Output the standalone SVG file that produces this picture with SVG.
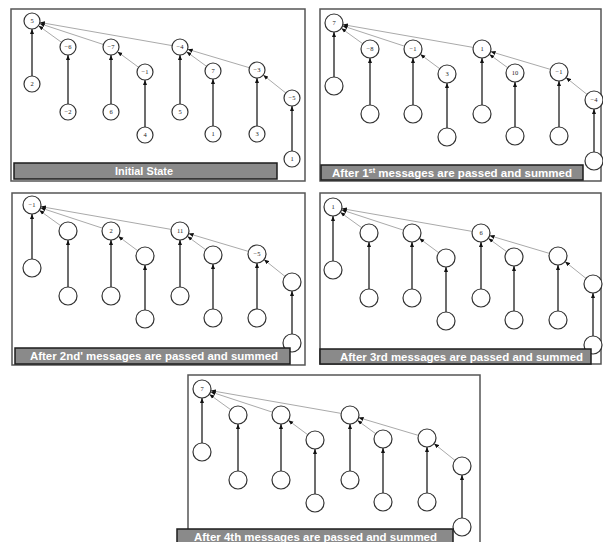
<svg xmlns="http://www.w3.org/2000/svg" xmlns:xlink="http://www.w3.org/1999/xlink" width="603" height="542" viewBox="0 0 603 542">
  <style>
    .frame{fill:#fff;stroke:#555;stroke-width:1.5}
    .bar{fill:#8a8a8a;stroke:#1c1c1c;stroke-width:1.5}
    .bar-text{font-family:"Liberation Sans",Arial,sans-serif;font-weight:bold;font-size:11px;fill:#fff;text-anchor:middle}
    .node circle{fill:#fff;stroke:#333;stroke-width:1.2}
    .node text{font-family:"Liberation Serif","Times New Roman",serif;font-size:6.5px;fill:#222;text-anchor:middle}
    .tree{fill:none;stroke:#3c3c3c;stroke-width:1.5;marker-end:url(#head)}
    .link{fill:none;stroke:#aaa;stroke-width:1;marker-end:url(#head)}
  </style>
  <defs>
    <marker id="head" markerUnits="userSpaceOnUse" markerWidth="5" markerHeight="5" viewBox="0 0 5 5" refX="5" refY="2.5" orient="auto">
      <path d="M0,0.5 L5,2.5 L0,4.5 z" fill="#111"/>
    </marker>
    <!-- binomial tree edges, node radius 8 -->
    <g id="edges-r8">
      <path class="tree" d="M32,76 V29"/>
      <path class="tree" d="M68,104 V55"/>
      <path class="tree" d="M111,104 V55"/>
      <path class="tree" d="M145,127 V80"/>
      <path class="tree" d="M180,104 V55"/>
      <path class="tree" d="M213,126 V79"/>
      <path class="tree" d="M257,126 V78"/>
      <path class="tree" d="M292,151 V106"/>
      <path class="link" d="M61.5,42.3 L38.5,25.7"/>
      <path class="link" d="M103.4,44.5 L39.6,23.5"/>
      <path class="link" d="M172.1,45.6 L39.9,22.4"/>
      <path class="link" d="M138.6,67.3 L117.4,51.7"/>
      <path class="link" d="M206.5,66.3 L186.5,51.7"/>
      <path class="link" d="M249.3,67.7 L187.7,49.3"/>
      <path class="link" d="M285.8,93 L263.2,75"/>
    </g>
    <!-- same edges, node radius 9 -->
    <g id="edges-r9">
      <path class="tree" d="M32,75 V30"/>
      <path class="tree" d="M68,103 V56"/>
      <path class="tree" d="M111,103 V56"/>
      <path class="tree" d="M145,126 V81"/>
      <path class="tree" d="M180,103 V56"/>
      <path class="tree" d="M213,125 V80"/>
      <path class="tree" d="M257,125 V79"/>
      <path class="tree" d="M292,150 V107"/>
      <path class="link" d="M60.7,41.7 L39.3,26.3"/>
      <path class="link" d="M102.5,44.2 L40.5,23.8"/>
      <path class="link" d="M171.1,45.4 L40.9,22.6"/>
      <path class="link" d="M137.7,66.7 L118.3,52.3"/>
      <path class="link" d="M205.7,65.7 L187.3,52.3"/>
      <path class="link" d="M248.4,67.4 L188.6,49.6"/>
      <path class="link" d="M285,92.4 L264,75.6"/>
    </g>
  </defs>

  <!-- frames -->
  <rect class="frame" x="11" y="9" width="294" height="172"/>
  <rect class="frame" x="320" y="9" width="281" height="172"/>
  <rect class="frame" x="12" y="193" width="293" height="172"/>
  <rect class="frame" x="320" y="193" width="281" height="171"/>
  <rect class="frame" x="188" y="375" width="292" height="168"/>

  <!-- panel 1: initial state -->
  <g id="panel1">
    <g id="p1-connectors"><use xlink:href="#edges-r8"/></g>
    <g id="p1-n0" class="node" transform="translate(32,21)"><circle r="8"/><text y="2.2">5</text></g>
    <g id="p1-n1" class="node" transform="translate(32,84)"><circle r="8"/><text y="2.2">2</text></g>
    <g id="p1-n2" class="node" transform="translate(68,47)"><circle r="8"/><text y="2.2">−6</text></g>
    <g id="p1-n3" class="node" transform="translate(68,112)"><circle r="8"/><text y="2.2">−2</text></g>
    <g id="p1-n4" class="node" transform="translate(111,47)"><circle r="8"/><text y="2.2">−7</text></g>
    <g id="p1-n5" class="node" transform="translate(111,112)"><circle r="8"/><text y="2.2">6</text></g>
    <g id="p1-n6" class="node" transform="translate(145,72)"><circle r="8"/><text y="2.2">−1</text></g>
    <g id="p1-n7" class="node" transform="translate(145,135)"><circle r="8"/><text y="2.2">4</text></g>
    <g id="p1-n8" class="node" transform="translate(180,47)"><circle r="8"/><text y="2.2">−4</text></g>
    <g id="p1-n9" class="node" transform="translate(180,112)"><circle r="8"/><text y="2.2">5</text></g>
    <g id="p1-n10" class="node" transform="translate(213,71)"><circle r="8"/><text y="2.2">7</text></g>
    <g id="p1-n11" class="node" transform="translate(213,134)"><circle r="8"/><text y="2.2">1</text></g>
    <g id="p1-n12" class="node" transform="translate(257,70)"><circle r="8"/><text y="2.2">−3</text></g>
    <g id="p1-n13" class="node" transform="translate(257,134)"><circle r="8"/><text y="2.2">3</text></g>
    <g id="p1-n14" class="node" transform="translate(292,98)"><circle r="8"/><text y="2.2">−5</text></g>
    <g id="p1-n15" class="node" transform="translate(292,159)"><circle r="8"/><text y="2.2">1</text></g>
  </g>

  <!-- panel 2: after first pass -->
  <g id="panel2" transform="translate(302,2)">
    <g id="p2-connectors"><use xlink:href="#edges-r9"/></g>
    <g id="p2-n0" class="node" transform="translate(32,21)"><circle r="9"/><text y="2.2">7</text></g>
    <g id="p2-n1" class="node" transform="translate(32,84)"><circle r="9"/></g>
    <g id="p2-n2" class="node" transform="translate(68,47)"><circle r="9"/><text y="2.2">−8</text></g>
    <g id="p2-n3" class="node" transform="translate(68,112)"><circle r="9"/></g>
    <g id="p2-n4" class="node" transform="translate(111,47)"><circle r="9"/><text y="2.2">−1</text></g>
    <g id="p2-n5" class="node" transform="translate(111,112)"><circle r="9"/></g>
    <g id="p2-n6" class="node" transform="translate(145,72)"><circle r="9"/><text y="2.2">3</text></g>
    <g id="p2-n7" class="node" transform="translate(145,135)"><circle r="9"/></g>
    <g id="p2-n8" class="node" transform="translate(180,47)"><circle r="9"/><text y="2.2">1</text></g>
    <g id="p2-n9" class="node" transform="translate(180,112)"><circle r="9"/></g>
    <g id="p2-n10" class="node" transform="translate(213,71)"><circle r="9"/><text y="2.2">10</text></g>
    <g id="p2-n11" class="node" transform="translate(213,134)"><circle r="9"/></g>
    <g id="p2-n12" class="node" transform="translate(257,70)"><circle r="9"/><text y="2.2">−1</text></g>
    <g id="p2-n13" class="node" transform="translate(257,134)"><circle r="9"/></g>
    <g id="p2-n14" class="node" transform="translate(292,98)"><circle r="9"/><text y="2.2">−4</text></g>
    <g id="p2-n15" class="node" transform="translate(292,159)"><circle r="9"/></g>
  </g>

  <!-- panel 3: after second pass -->
  <g id="panel3" transform="translate(0,184)">
    <g id="p3-connectors"><use xlink:href="#edges-r9"/></g>
    <g id="p3-n0" class="node" transform="translate(32,21)"><circle r="9"/><text y="2.2">−1</text></g>
    <g id="p3-n1" class="node" transform="translate(32,84)"><circle r="9"/></g>
    <g id="p3-n2" class="node" transform="translate(68,47)"><circle r="9"/></g>
    <g id="p3-n3" class="node" transform="translate(68,112)"><circle r="9"/></g>
    <g id="p3-n4" class="node" transform="translate(111,47)"><circle r="9"/><text y="2.2">2</text></g>
    <g id="p3-n5" class="node" transform="translate(111,112)"><circle r="9"/></g>
    <g id="p3-n6" class="node" transform="translate(145,72)"><circle r="9"/></g>
    <g id="p3-n7" class="node" transform="translate(145,135)"><circle r="9"/></g>
    <g id="p3-n8" class="node" transform="translate(180,47)"><circle r="9"/><text y="2.2">11</text></g>
    <g id="p3-n9" class="node" transform="translate(180,112)"><circle r="9"/></g>
    <g id="p3-n10" class="node" transform="translate(213,71)"><circle r="9"/></g>
    <g id="p3-n11" class="node" transform="translate(213,134)"><circle r="9"/></g>
    <g id="p3-n12" class="node" transform="translate(257,70)"><circle r="9"/><text y="2.2">−5</text></g>
    <g id="p3-n13" class="node" transform="translate(257,134)"><circle r="9"/></g>
    <g id="p3-n14" class="node" transform="translate(292,98)"><circle r="9"/></g>
    <g id="p3-n15" class="node" transform="translate(292,159)"><circle r="9"/></g>
  </g>

  <!-- panel 4: after third pass -->
  <g id="panel4" transform="translate(301,186)">
    <g id="p4-connectors"><use xlink:href="#edges-r9"/></g>
    <g id="p4-n0" class="node" transform="translate(32,21)"><circle r="9"/><text y="2.2">1</text></g>
    <g id="p4-n1" class="node" transform="translate(32,84)"><circle r="9"/></g>
    <g id="p4-n2" class="node" transform="translate(68,47)"><circle r="9"/></g>
    <g id="p4-n3" class="node" transform="translate(68,112)"><circle r="9"/></g>
    <g id="p4-n4" class="node" transform="translate(111,47)"><circle r="9"/></g>
    <g id="p4-n5" class="node" transform="translate(111,112)"><circle r="9"/></g>
    <g id="p4-n6" class="node" transform="translate(145,72)"><circle r="9"/></g>
    <g id="p4-n7" class="node" transform="translate(145,135)"><circle r="9"/></g>
    <g id="p4-n8" class="node" transform="translate(180,47)"><circle r="9"/><text y="2.2">6</text></g>
    <g id="p4-n9" class="node" transform="translate(180,112)"><circle r="9"/></g>
    <g id="p4-n10" class="node" transform="translate(213,71)"><circle r="9"/></g>
    <g id="p4-n11" class="node" transform="translate(213,134)"><circle r="9"/></g>
    <g id="p4-n12" class="node" transform="translate(257,70)"><circle r="9"/></g>
    <g id="p4-n13" class="node" transform="translate(257,134)"><circle r="9"/></g>
    <g id="p4-n14" class="node" transform="translate(292,98)"><circle r="9"/></g>
    <g id="p4-n15" class="node" transform="translate(292,159)"><circle r="9"/></g>
  </g>

  <!-- panel 5: after fourth pass -->
  <g id="panel5" transform="translate(170,368)">
    <g id="p5-connectors"><use xlink:href="#edges-r9"/></g>
    <g id="p5-n0" class="node" transform="translate(32,21)"><circle r="9"/><text y="2.2">7</text></g>
    <g id="p5-n1" class="node" transform="translate(32,84)"><circle r="9"/></g>
    <g id="p5-n2" class="node" transform="translate(68,47)"><circle r="9"/></g>
    <g id="p5-n3" class="node" transform="translate(68,112)"><circle r="9"/></g>
    <g id="p5-n4" class="node" transform="translate(111,47)"><circle r="9"/></g>
    <g id="p5-n5" class="node" transform="translate(111,112)"><circle r="9"/></g>
    <g id="p5-n6" class="node" transform="translate(145,72)"><circle r="9"/></g>
    <g id="p5-n7" class="node" transform="translate(145,135)"><circle r="9"/></g>
    <g id="p5-n8" class="node" transform="translate(180,47)"><circle r="9"/></g>
    <g id="p5-n9" class="node" transform="translate(180,112)"><circle r="9"/></g>
    <g id="p5-n10" class="node" transform="translate(213,71)"><circle r="9"/></g>
    <g id="p5-n11" class="node" transform="translate(213,134)"><circle r="9"/></g>
    <g id="p5-n12" class="node" transform="translate(257,70)"><circle r="9"/></g>
    <g id="p5-n13" class="node" transform="translate(257,134)"><circle r="9"/></g>
    <g id="p5-n14" class="node" transform="translate(292,98)"><circle r="9"/></g>
    <g id="p5-n15" class="node" transform="translate(292,159)"><circle r="9"/></g>
  </g>

  <!-- caption bars -->
  <g id="captions">
    <rect class="bar" x="14" y="163" width="263" height="16"/>
    <text class="bar-text" x="144" y="175" textLength="58" lengthAdjust="spacingAndGlyphs">Initial State</text>
    <rect class="bar" x="321" y="165" width="262" height="15"/>
    <text class="bar-text" x="452" y="176.5" textLength="240" lengthAdjust="spacingAndGlyphs">After 1<tspan dy="-3.5" font-size="7">st</tspan><tspan dy="3.5"> messages are passed and summed</tspan></text>
    <rect class="bar" x="15" y="348" width="275" height="16"/>
    <text class="bar-text" x="154" y="360" textLength="248" lengthAdjust="spacingAndGlyphs">After 2nd' messages are passed and summed</text>
    <rect class="bar" x="320" y="349" width="271" height="15"/>
    <text class="bar-text" x="461.5" y="360.5" textLength="243" lengthAdjust="spacingAndGlyphs">After 3rd messages are passed and summed</text>
    <rect class="bar" x="177" y="529" width="276" height="16"/>
    <text class="bar-text" x="315.5" y="541" textLength="243" lengthAdjust="spacingAndGlyphs">After 4th messages are passed and summed</text>
  </g>
</svg>
